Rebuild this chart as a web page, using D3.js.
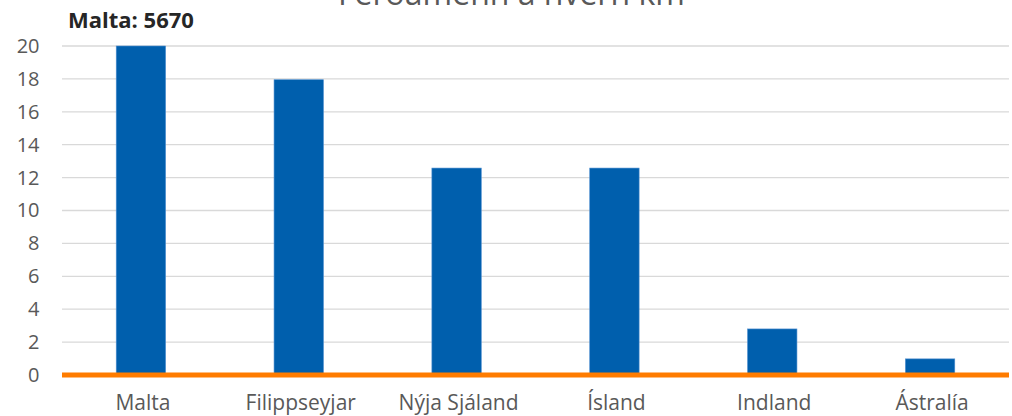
<!DOCTYPE html>
<html>
<head>
<meta charset="utf-8">
<script src="https://cdn.jsdelivr.net/npm/d3@7"></script>
<style>
  html, body { margin: 0; padding: 0; background: #fff; }
  svg { display: block; font-family: "Open Sans", sans-serif; }
</style>
</head>
<body>
<svg id="chart" width="1012" height="416"></svg>
<script>
const categories = ["Malta", "Filippseyjar", "Nýja Sjáland", "Ísland", "Indland", "Ástralía"];
const values = [20, 17.95, 12.58, 12.58, 2.8, 0.98];
const yTicks = [0, 2, 4, 6, 8, 10, 12, 14, 16, 18, 20];
const titleText = "Ferðamenn á hvern km²";
const noteText = "Malta: 5670";

const svg = d3.select("#chart");
const margin = { left: 62, right: 1009, top: 46, bottom: 375 };

const x = d3.scaleBand()
  .domain(categories)
  .range([margin.left, margin.right])
  .paddingInner(0.687)
  .paddingOuter(0.3435);

const y = d3.scaleLinear()
  .domain([0, 20])
  .range([margin.bottom, margin.top]);

// gridlines
svg.append("g")
  .selectAll("line")
  .data(yTicks.filter(d => d > 0))
  .join("line")
  .attr("x1", margin.left)
  .attr("x2", margin.right)
  .attr("y1", d => y(d))
  .attr("y2", d => y(d))
  .attr("stroke", "#d9d9d9")
  .attr("stroke-width", 1.3);

// y axis labels
const yAxis = d3.axisLeft(y).tickValues(yTicks).tickSize(0).tickPadding(0);
const gy = svg.append("g").attr("transform", "translate(39.5,0)").call(yAxis);
gy.select(".domain").remove();
gy.selectAll("text")
  .attr("fill", "#595959")
  .style("font-size", "20px")
  .style("font-family", "'Open Sans', sans-serif");

// bars
svg.append("g")
  .selectAll("rect")
  .data(categories.map((c, i) => ({ c, v: values[i] })))
  .join("rect")
  .attr("x", d => x(d.c))
  .attr("width", x.bandwidth())
  .attr("y", d => y(d.v))
  .attr("height", d => y(0) - y(d.v))
  .attr("fill", "#005fad")
  .attr("stroke", "#4f8fd0")
  .attr("stroke-width", 0.6);

// orange baseline
svg.append("line")
  .attr("x1", margin.left)
  .attr("x2", margin.right)
  .attr("y1", y(0))
  .attr("y2", y(0))
  .attr("stroke", "#ff7c00")
  .attr("stroke-width", 5);

// x axis labels
const xAxis = d3.axisBottom(x).tickSize(0).tickPadding(0);
const gx = svg.append("g").attr("transform", "translate(2,410)").call(xAxis);
gx.select(".domain").remove();
gx.selectAll("text")
  .attr("fill", "#595959")
  .attr("dy", "0")
  .style("font-size", "21px")
  .style("font-family", "'Open Sans', sans-serif");

// title (partially cut at top, as in the original)
svg.append("text")
  .attr("x", 338)
  .attr("y", 4.5)
  .attr("fill", "#595959")
  .style("font-size", "32px")
  .text(titleText);

// note
svg.append("text")
  .attr("x", 68)
  .attr("y", 27.5)
  .attr("fill", "#262626")
  .style("font-size", "22px")
  .style("font-weight", "bold")
  .text(noteText);
</script>
</body>
</html>
